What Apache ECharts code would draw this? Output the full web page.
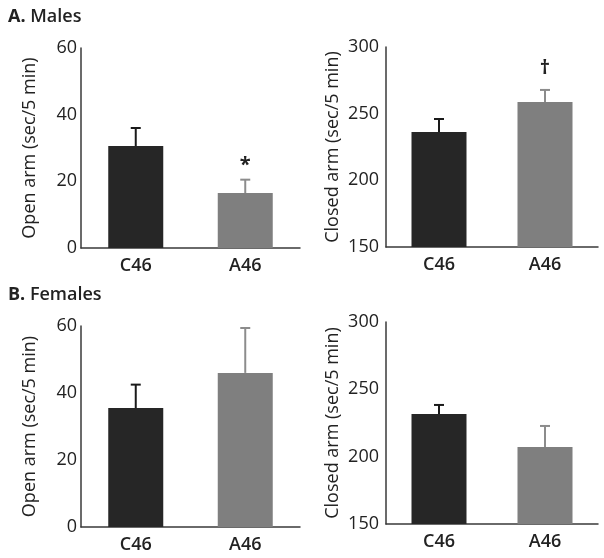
<!DOCTYPE html>
<html>
<head>
<meta charset="utf-8">
<script src="https://cdn.jsdelivr.net/npm/echarts@6/dist/echarts.min.js"></script>
<style>html,body{margin:0;padding:0;background:#fff;}#c{width:604px;height:558px;}</style>
</head>
<body>
<div id="c"></div>
<script>
// ---- data ----
var categories = ['C46', 'A46'];
var maleOpen = [30.6, 16.5];
var maleOpenErr = [5.4, 4.0];
var maleOpenSig = ['', '*'];
var maleClosed = [236.3, 258.8];
var maleClosedErr = [9.7, 9.0];
var maleClosedSig = ['', '\u2020'];
var femaleOpen = [35.5, 46.0];
var femaleOpenErr = [7.0, 13.4];
var femaleOpenSig = ['', ''];
var femaleClosed = [231.7, 207.2];
var femaleClosedErr = [6.7, 15.6];
var femaleClosedSig = ['', ''];
var openTicks = {min: 0, max: 60, interval: 20};
var closedTicks = {min: 150, max: 300, interval: 50};
var panelTitles = ['A', 'Males', 'B', 'Females'];
var openName = 'Open arm (sec/5 min)';
var closedName = 'Closed arm (sec/5 min)';

// ---- styling ----
var FONT = '"Open Sans", "Noto Sans", sans-serif';
var barColors = ['#262626', '#7f7f7f'];
var errColors = ['#1a1a1a', '#8c8c8c'];
var axisColor = '#3a3a3a';
var textColor = '#222';

var grids = [
  {left: 81, top: 48, width: 219, height: 200},
  {left: 386, top: 47, width: 212, height: 200},
  {left: 81, top: 326, width: 219, height: 201},
  {left: 386, top: 322, width: 212, height: 202}
];
var panels = [
  {vals: maleOpen, err: maleOpenErr, sig: maleOpenSig, ticks: openTicks, name: openName, gap: 42, lm: 4},
  {vals: maleClosed, err: maleClosedErr, sig: maleClosedSig, ticks: closedTicks, name: closedName, gap: 44, lm: 7},
  {vals: femaleOpen, err: femaleOpenErr, sig: femaleOpenSig, ticks: openTicks, name: openName, gap: 42, lm: 4},
  {vals: femaleClosed, err: femaleClosedErr, sig: femaleClosedSig, ticks: closedTicks, name: closedName, gap: 44, lm: 7}
];

var xAxes = [], yAxes = [], series = [];
panels.forEach(function (p, i) {
  xAxes.push({
    type: 'category', gridIndex: i, data: categories,
    axisLine: {show: true, lineStyle: {color: axisColor, width: 1.5}},
    axisTick: {show: false},
    axisLabel: {color: textColor, fontFamily: FONT, fontSize: 18, fontWeight: 600, margin: 9}
  });
  yAxes.push({
    type: 'value', gridIndex: i, min: p.ticks.min, max: p.ticks.max, interval: p.ticks.interval,
    axisLine: {show: true, lineStyle: {color: axisColor, width: 1.5}},
    axisTick: {show: false},
    splitLine: {show: false},
    axisLabel: {color: textColor, fontFamily: FONT, fontSize: 18, fontWeight: 500, margin: p.lm, padding: [6, 0, 0, 0]},
    name: p.name, nameLocation: 'middle', nameRotate: 90, nameGap: p.gap,
    nameTextStyle: {color: textColor, fontFamily: FONT, fontSize: 18, fontWeight: 500}
  });
  series.push({
    type: 'bar', xAxisIndex: i, yAxisIndex: i, barWidth: 55,
    data: p.vals.map(function (v, k) { return {value: v, itemStyle: {color: barColors[k]}}; }),
    z: 2
  });
  series.push({
    type: 'custom', xAxisIndex: i, yAxisIndex: i, z: 3,
    data: p.vals.map(function (v, k) { return [k, v, v + p.err[k]]; }),
    renderItem: function (params, api) {
      var k = api.value(0);
      var base = api.coord([k, api.value(1)]);
      var top = api.coord([k, api.value(2)]);
      var c = errColors[k];
      var sig = p.sig[k];
      var children = [
        {type: 'line', shape: {x1: base[0], y1: base[1], x2: top[0], y2: top[1]}, style: {stroke: c, lineWidth: 2}},
        {type: 'line', shape: {x1: top[0] - 5, y1: top[1], x2: top[0] + 5, y2: top[1]}, style: {stroke: c, lineWidth: 2}}
      ];
      if (sig) {
        children.push({type: 'text', x: top[0], y: top[1] - (sig === '*' ? 4 : 12),
          style: {text: sig, fill: textColor, font: 'bold 20px ' + FONT, align: 'center', verticalAlign: 'bottom'}});
      }
      return {type: 'group', children: children};
    }
  });
});

var titleRich = {
  a: {fontFamily: FONT, fontSize: 18, fontWeight: 'bold', color: textColor},
  b: {fontFamily: FONT, fontSize: 18, fontWeight: 600, color: textColor}
};
var chart = echarts.init(document.getElementById('c'));
chart.setOption({
  backgroundColor: '#fff',
  animation: false,
  title: [
    {left: 3, top: 3, text: '{a|' + panelTitles[0] + '.}{b| ' + panelTitles[1] + '}', textStyle: {rich: titleRich}},
    {left: 3, top: 281, text: '{a|' + panelTitles[2] + '.}{b| ' + panelTitles[3] + '}', textStyle: {rich: titleRich}}
  ],
  grid: grids,
  xAxis: xAxes,
  yAxis: yAxes,
  series: series
});
</script>
</body>
</html>
